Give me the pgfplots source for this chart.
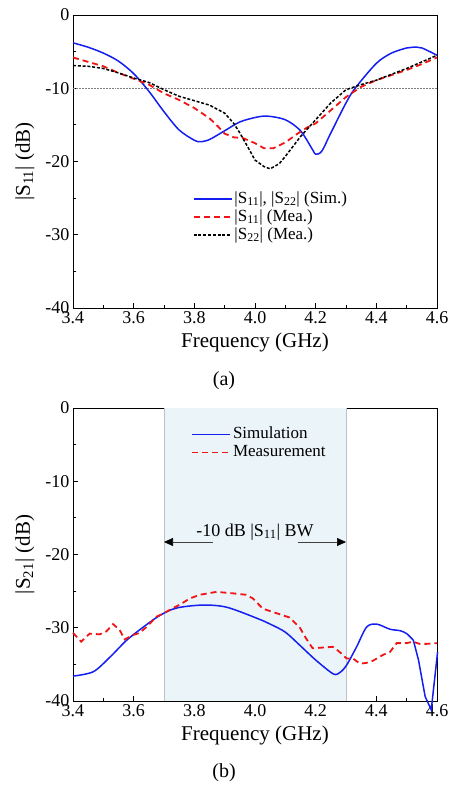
\documentclass[border=0pt]{standalone}
\usepackage{fontspec}
\setmainfont{Liberation Serif}
\usepackage{pgfplots}
\pgfplotsset{compat=1.18}
\usetikzlibrary{arrows.meta}

\definecolor{simblue}{RGB}{20,30,240}
\definecolor{meared}{RGB}{240,20,20}
\definecolor{band}{RGB}{235,245,249}
\definecolor{bandline}{RGB}{185,195,200}

\tikzset{
  simline/.style={simblue, line width=1.5pt},
  mealine/.style={meared, line width=1.8pt, dash pattern=on 6pt off 4pt},
}

\pgfplotsset{
  sparam/.style={
    scale only axis, width=364pt, height=293pt,
    xmin=3.4, xmax=4.6, ymin=-40, ymax=0,
    xtick={3.4,3.6,3.8,4.0,4.2,4.4,4.6},
    xticklabels={3.4,3.6,3.8,4.0,4.2,4.4,4.6},
    minor xtick={3.5,3.7,3.9,4.1,4.3,4.5},
    ytick={-40,-30,-20,-10,0},
    yticklabels={-40,-30,-20,-10,0},
    minor ytick={-35,-25,-15,-5},
    tick pos=left, tick align=inside,
    major tick length=5pt, minor tick length=3pt,
    tick style={black, line width=0.8pt},
    axis line style={line width=0.9pt},
    tick label style={font=\fontsize{18}{20}\selectfont},
    label style={font=\fontsize{21}{24}\selectfont},
    xlabel={Frequency (GHz)},
    xlabel style={at={(axis description cs:0.5,-0.116)},anchor=center},
    ylabel style={at={(axis description cs:-0.132,0.5)},anchor=center},
    legend style={draw=none, fill=none, font=\fontsize{17}{18}\selectfont,
      anchor=north west, cells={anchor=west}, row sep=0pt,
      nodes={text height=12.5pt, text depth=4.5pt, inner ysep=0.5pt, inner xsep=2pt}},
    legend image code/.code={\draw[##1] (0pt,0pt) -- (38pt,0pt);},
  },
}

\begin{document}
\begin{tikzpicture}
\useasboundingbox (0,0) rectangle (451pt,-785pt);

% (a) reflection
\begin{axis}[sparam, at={(73pt,-308pt)}, anchor=south west,
  ylabel={|S\textsubscript{11}| (dB)},
  legend style={at={(0.32,0.41)}}]
\addplot[gray, densely dotted, line width=0.5pt, forget plot] coordinates {(3.4,-10) (4.6,-10)};
\addplot[simline, smooth] coordinates {
(3.40,-3.8) (3.45,-4.4) (3.50,-5.2) (3.55,-6.3) (3.60,-8.0) (3.65,-10.4) (3.70,-13.2)
(3.75,-15.7) (3.80,-17.1) (3.82,-17.3) (3.85,-17.0) (3.90,-15.8) (3.95,-14.6)
(4.00,-14.0) (4.04,-13.8) (4.10,-14.3) (4.15,-15.8) (4.19,-18.4) (4.20,-19.0)
(4.22,-18.6) (4.25,-16.1) (4.30,-12.0) (4.33,-10.0) (4.40,-6.6) (4.45,-5.2)
(4.50,-4.5) (4.52,-4.4) (4.55,-4.5) (4.60,-5.5)};
\addlegendentry{|S\textsubscript{11}|, |S\textsubscript{22}| (Sim.)}
\addplot[mealine] coordinates {
(3.40,-5.8) (3.45,-6.4) (3.50,-7.0) (3.55,-7.9) (3.60,-8.7) (3.65,-9.5) (3.70,-10.7)
(3.75,-11.6) (3.80,-12.7) (3.85,-14.1) (3.88,-15.3) (3.90,-16.2) (3.93,-16.7)
(3.96,-16.8) (4.00,-17.5) (4.03,-18.2) (4.06,-18.2) (4.10,-17.4) (4.14,-16.2)
(4.17,-15.4) (4.20,-14.8) (4.25,-13.0) (4.30,-11.2) (4.35,-9.8) (4.40,-8.9)
(4.45,-8.2) (4.50,-7.5) (4.55,-6.7) (4.60,-5.8)};
\addlegendentry{|S\textsubscript{11}| (Mea.)}
\addplot[black, line width=1.5pt, dash pattern=on 3pt off 1.8pt] coordinates {
(3.40,-6.9) (3.45,-7.0) (3.50,-7.3) (3.55,-7.9) (3.60,-8.6) (3.65,-9.2) (3.70,-10.2)
(3.75,-11.1) (3.80,-11.7) (3.85,-12.3) (3.90,-13.4) (3.93,-14.8) (3.95,-16.1)
(3.98,-18.3) (4.00,-19.8) (4.03,-20.7) (4.05,-21.0) (4.08,-20.3) (4.10,-19.3)
(4.15,-16.6) (4.20,-14.3) (4.25,-12.0) (4.30,-10.2) (4.35,-9.5) (4.40,-8.9)
(4.45,-8.1) (4.50,-7.3) (4.55,-6.4) (4.60,-5.5)};
\addlegendentry{|S\textsubscript{22}| (Mea.)}
\end{axis}

% (b) transmission
\begin{axis}[sparam, at={(73pt,-701pt)}, anchor=south west, clip=false,
  ylabel={|S\textsubscript{21}| (dB)}]
\addplot[draw=none, fill=band, forget plot] coordinates {(3.7,-40) (3.7,0) (4.3,0) (4.3,-40)} -- cycle;
\addplot[bandline, line width=0.7pt, forget plot] coordinates {(3.7,-40) (3.7,0)};
\addplot[bandline, line width=0.7pt, forget plot] coordinates {(4.3,-40) (4.3,0)};
\addplot[simline, smooth, forget plot] coordinates {
(3.40,-36.6) (3.467,-36.0) (3.522,-34.0) (3.577,-31.7) (3.632,-29.9) (3.687,-28.3)
(3.742,-27.3) (3.829,-26.9) (3.907,-27.2) (4.006,-28.7) (4.05,-29.5) (4.10,-30.6)
(4.148,-32.4) (4.20,-34.4) (4.258,-36.3) (4.28,-36.1) (4.302,-35.1) (4.335,-32.6)
(4.368,-29.9) (4.401,-29.5) (4.445,-30.2) (4.478,-30.4) (4.50,-30.8) (4.522,-31.7)};
\addplot[mealine, forget plot] coordinates {
(3.400,-30.7) (3.427,-31.9) (3.455,-30.8) (3.488,-30.9) (3.510,-30.5) (3.532,-29.5)
(3.554,-30.3) (3.570,-31.6) (3.598,-31.0) (3.620,-30.7) (3.642,-29.9) (3.675,-28.5)
(3.700,-28.0) (3.730,-27.3) (3.750,-26.9) (3.785,-26.0) (3.818,-25.5) (3.873,-25.1)
(3.927,-25.3) (3.971,-25.5) (3.993,-26.0) (4.026,-27.4) (4.070,-28.0) (4.114,-28.6)
(4.148,-30.0) (4.169,-31.5) (4.190,-32.8) (4.224,-32.7) (4.257,-32.6) (4.279,-33.3)
(4.302,-34.2) (4.323,-34.2) (4.346,-34.9) (4.367,-34.8) (4.389,-34.5) (4.422,-33.7)
(4.445,-33.3) (4.467,-32.1) (4.499,-32.1) (4.521,-31.9) (4.543,-32.2) (4.565,-32.2)
(4.600,-32.1)};
\addplot[simline, forget plot] coordinates {
(4.522,-31.7) (4.539,-34.4) (4.561,-39.4) (4.581,-41.2) (4.602,-33.3)};
\end{axis}

% legend of panel (b), drawn on a hidden axis of the same size
\begin{axis}[sparam, hide axis, xlabel={}, ylabel={}, at={(73pt,-701pt)}, anchor=south west,
  legend style={at={(0.316,0.948)}}]
\addlegendimage{simline}
\addlegendentry{Simulation}
\addlegendimage{mealine}
\addlegendentry{Measurement}
\end{axis}

% bandwidth annotation of panel (b): 3.7 GHz -> x=164pt, 4.3 GHz -> x=346pt, -18.3 dB -> y=-542pt
\draw[black!75, line width=0.6pt, -{Triangle[length=9pt,width=8pt,black]}]
  (212.5pt,-542pt) -- (164pt,-542pt);
\draw[black!75, line width=0.6pt, -{Triangle[length=9pt,width=8pt,black]}]
  (297.5pt,-542pt) -- (346pt,-542pt);
\node[font=\fontsize{18}{20}\selectfont] at (255pt,-532pt) {-10 dB |S\textsubscript{11}| BW};

\node[font=\fontsize{20}{22}\selectfont] at (224pt,-381pt) {(a)};
\node[font=\fontsize{20}{22}\selectfont] at (224pt,-773pt) {(b)};
\end{tikzpicture}
\end{document}
